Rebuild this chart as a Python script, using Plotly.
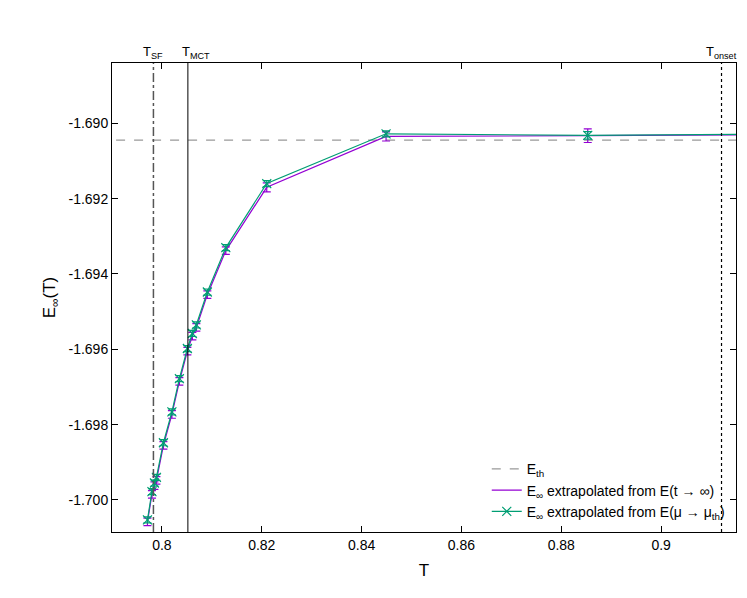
import plotly.graph_objects as go

T = [0.7971, 0.7980, 0.7985, 0.7989, 0.8003, 0.8020, 0.8035, 0.8051, 0.8061, 0.8069,
     0.8091, 0.8128, 0.8210, 0.8449, 0.8853, 0.9300]
E_t = [-1.70058, -1.69985, -1.69962, -1.69948, -1.69855, -1.69773, -1.69685, -1.69605,
       -1.69565, -1.69542, -1.69455, -1.69338, -1.69170, -1.69035, -1.69033, -1.69030]
err_t = [0.00010, 0.00010, 0.00010, 0.00010, 0.00010, 0.00010, 0.00010, 0.00010,
         0.00010, 0.00010, 0.00010, 0.00010, 0.00012, 0.00012, 0.00018, 0.00010]
E_mu = [-1.70053, -1.69978, -1.69955, -1.69940, -1.69848, -1.69766, -1.69678, -1.69598,
        -1.69558, -1.69535, -1.69448, -1.69330, -1.69160, -1.69028, -1.69032, -1.69028]
err_mu = [0.00008, 0.00008, 0.00008, 0.00008, 0.00008, 0.00008, 0.00008, 0.00008,
          0.00008, 0.00008, 0.00008, 0.00008, 0.00008, 0.00008, 0.00010, 0.00008]
E_th = -1.69045
T_SF, T_MCT, T_onset = 0.7983, 0.8052, 0.9121
x_ticks = [0.8, 0.82, 0.84, 0.86, 0.88, 0.9]
x_labels = ["0.8", "0.82", "0.84", "0.86", "0.88", "0.9"]
y_ticks = [-1.690, -1.692, -1.694, -1.696, -1.698, -1.700]
y_labels = ["-1.690", "-1.692", "-1.694", "-1.696", "-1.698", "-1.700"]

fig = go.Figure()
fig.add_trace(go.Scatter(x=[0.78, 0.93], y=[E_th, E_th], mode="lines",
                         line=dict(color="#999999", dash="dash", width=1.2), name="E<sub>th</sub>"))
fig.add_trace(go.Scatter(x=T, y=E_t, mode="lines", line=dict(color="#9400d3", width=1.2),
                         error_y=dict(array=err_t, color="#9400d3", thickness=1.2, width=4),
                         name="E<sub>∞</sub> extrapolated from E(t → ∞)"))
fig.add_trace(go.Scatter(x=T, y=E_mu, mode="lines+markers", line=dict(color="#009e73", width=1.2),
                         marker=dict(symbol="x-thin", size=9, line=dict(color="#009e73", width=1.2)),
                         error_y=dict(array=err_mu, color="#009e73", thickness=1.2, width=4),
                         name="E<sub>∞</sub> extrapolated from E(μ → μ<sub>th</sub>)"))

fig.add_vline(x=T_SF, line=dict(color="#555555", dash="dashdot", width=1.5))
fig.add_vline(x=T_MCT, line=dict(color="black", width=1))
fig.add_vline(x=T_onset, line=dict(color="black", dash="dot", width=1.2))
for xv, txt in [(T_SF, "T<sub>SF</sub>"), (T_MCT, "T<sub>MCT</sub>"), (T_onset, "T<sub>onset</sub>")]:
    fig.add_annotation(x=xv, y=1, yref="paper", text=txt, showarrow=False,
                       yanchor="bottom", xanchor="left" if xv == T_MCT else "center",
                       xshift=-8 if xv == T_MCT else 0, font=dict(size=13))

axis_common = dict(showgrid=False, zeroline=False, showline=True, linecolor="black",
                   mirror="ticks", ticks="inside", ticklen=6, tickcolor="black")
fig.update_xaxes(range=[0.790, 0.915], tickvals=x_ticks, ticktext=x_labels,
                 title=dict(text="T", standoff=12), **axis_common)
fig.update_yaxes(range=[-1.70085, -1.6884], tickvals=y_ticks, ticktext=y_labels,
                 title=dict(text="E<sub>∞</sub>(T)", standoff=8), **axis_common)
fig.update_layout(width=747, height=598, plot_bgcolor="white", paper_bgcolor="white",
                  font=dict(family="Liberation Sans, Arial, sans-serif", size=14, color="black"),
                  margin=dict(l=104, r=19, t=55, b=74),
                  legend=dict(x=0.99, y=0.01, xanchor="right", yanchor="bottom",
                              bgcolor="rgba(0,0,0,0)", tracegroupgap=0, font=dict(size=14)))
fig.write_html("out.html")
